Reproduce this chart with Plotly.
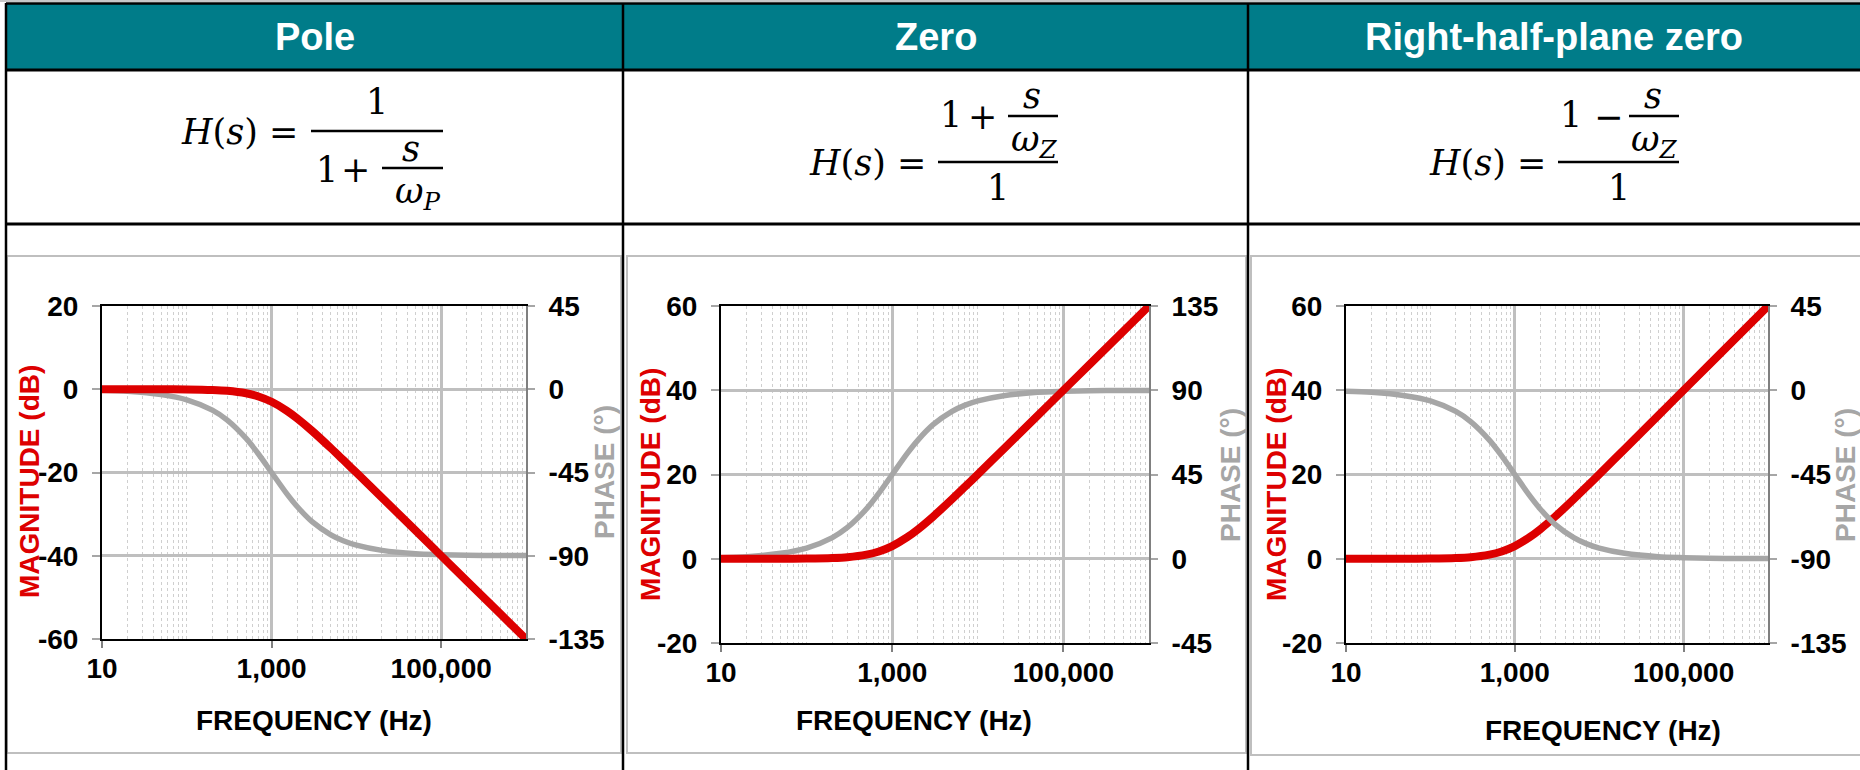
import plotly.graph_objects as go

W, H = 1860, 770

# ---------------- data ----------------
freq_hz = [10, 20, 50, 100, 200, 300, 500, 700, 1000, 1500, 2000, 3000, 5000, 7000,
           10000, 20000, 50000, 100000, 200000, 500000, 1000000]

pole_mag_db = [0.0, 0.0, 0.0, -0.04, -0.17, -0.37, -0.97, -1.73, -3.01, -5.12, -6.99, -10.0,
               -14.15, -16.99, -20.04, -26.03, -33.98, -40.0, -46.02, -53.98, -60.0]
pole_phase_deg = [-0.6, -1.1, -2.9, -5.7, -11.3, -16.7, -26.6, -35.0, -45.0, -56.3, -63.4, -71.6,
                  -78.7, -81.9, -84.3, -87.1, -88.9, -89.4, -89.7, -89.9, -89.9]

zero_mag_db = [0.0, 0.0, 0.0, 0.04, 0.17, 0.37, 0.97, 1.73, 3.01, 5.12, 6.99, 10.0,
               14.15, 16.99, 20.04, 26.03, 33.98, 40.0, 46.02, 53.98, 60.0]
zero_phase_deg = [0.6, 1.1, 2.9, 5.7, 11.3, 16.7, 26.6, 35.0, 45.0, 56.3, 63.4, 71.6,
                  78.7, 81.9, 84.3, 87.1, 88.9, 89.4, 89.7, 89.9, 89.9]

rhp_mag_db = [0.0, 0.0, 0.0, 0.04, 0.17, 0.37, 0.97, 1.73, 3.01, 5.12, 6.99, 10.0,
              14.15, 16.99, 20.04, 26.03, 33.98, 40.0, 46.02, 53.98, 60.0]
rhp_phase_deg = [-0.6, -1.1, -2.9, -5.7, -11.3, -16.7, -26.6, -35.0, -45.0, -56.3, -63.4, -71.6,
                 -78.7, -81.9, -84.3, -87.1, -88.9, -89.4, -89.7, -89.9, -89.9]

x_tick_vals = [10, 1000, 100000]
x_tick_text = ["10", "1,000", "100,000"]

pole_mag_ticks = [-60, -40, -20, 0, 20]
pole_phase_ticks = [-135, -90, -45, 0, 45]
zero_mag_ticks = [-20, 0, 20, 40, 60]
zero_phase_ticks = [-45, 0, 45, 90, 135]
rhp_mag_ticks = [-20, 0, 20, 40, 60]
rhp_phase_ticks = [-135, -90, -45, 0, 45]

headers = ["Pole", "Zero", "Right-half-plane zero"]

# ---------------- styling ----------------
RED = "#DD0000"
GRAY = "#A6A6A6"
TEAL = "#007C89"
SANS = "Liberation Sans, Arial, sans-serif"
SERIF = "DejaVu Serif, Liberation Serif, serif"
TICK_FS = 28
TITLE_FS = 28

minor_vals = [m * 10 ** e for e in range(1, 6) for m in range(2, 10)]
minor_vals += [10 ** e for e in range(2, 7) if 10 ** e not in x_tick_vals]


def px(x):
    return x / W


def py(y):
    return 1 - y / H


panels = [
    dict(mag=pole_mag_db, ph=pole_phase_deg, mt=pole_mag_ticks, pt=pole_phase_ticks,
         x0=102, x1=526, y0=306, y1=639, mag_on_top=True,
         mag_title=(29, 482), ph_title=(604, 472), fq_title=(314, 720)),
    dict(mag=zero_mag_db, ph=zero_phase_deg, mt=zero_mag_ticks, pt=zero_phase_ticks,
         x0=721, x1=1149, y0=306, y1=643, mag_on_top=True,
         mag_title=(650, 485), ph_title=(1230, 475), fq_title=(914, 720)),
    dict(mag=rhp_mag_db, ph=rhp_phase_deg, mt=rhp_mag_ticks, pt=rhp_phase_ticks,
         x0=1346, x1=1768, y0=306, y1=643, mag_on_top=False,
         mag_title=(1276, 485), ph_title=(1845, 475), fq_title=(1603, 730)),
]

fig = go.Figure()
layout = dict(
    width=W, height=H, margin=dict(l=0, r=0, t=0, b=0, pad=0, autoexpand=False),
    paper_bgcolor="white", plot_bgcolor="white", showlegend=False,
    font=dict(family=SANS, color="black"),
)

annotations = []
shapes = []

for i, p in enumerate(panels):
    xa = "xaxis" if i == 0 else f"xaxis{i + 1}"
    xid = "x" if i == 0 else f"x{i + 1}"
    ia, ib = 2 * i + 1, 2 * i + 2
    ida = "y" if ia == 1 else f"y{ia}"
    idb = f"y{ib}"
    ya, yb = ("yaxis" if ia == 1 else f"yaxis{ia}"), f"yaxis{ib}"
    # base axis (ya) / overlay axis (yb): overlay traces are drawn on top
    if p["mag_on_top"]:
        ph_axis, mag_axis = (ya, ida), (yb, idb)
    else:
        mag_axis, ph_axis = (ya, ida), (yb, idb)
    base_id = ida

    ydom = [py(p["y1"]), py(p["y0"])]
    layout[xa] = dict(
        domain=[px(p["x0"]), px(p["x1"])], anchor=mag_axis[1], type="log", range=[1, 6],
        tickmode="array", tickvals=x_tick_vals, ticktext=x_tick_text,
        ticks="outside", ticklen=7, tickwidth=2, tickcolor="#808080",
        showline=True, linecolor="black", linewidth=2, mirror=True,
        showgrid=True, gridcolor="#BFBFBF", gridwidth=2.5,
        minor=dict(tickmode="array", tickvals=minor_vals, showgrid=True,
                   gridcolor="#CFCFCF", gridwidth=1, griddash="dot", ticks=""),
        tickfont=dict(size=TICK_FS, family=SANS, color="black", weight="bold"),
        ticklabelstandoff=-4, zeroline=False, fixedrange=True, automargin=False,
    )
    mag_cfg = dict(
        domain=ydom, anchor=xid, side="left", range=[p["mt"][0], p["mt"][-1]],
        tickmode="array", tickvals=p["mt"], ticktext=[str(v) for v in p["mt"]],
        ticks="outside", ticklen=8, tickwidth=2, tickcolor=GRAY,
        showline=True, linecolor="black", linewidth=2,
        showgrid=True, gridcolor="#BFBFBF", gridwidth=2.5, zeroline=False,
        tickfont=dict(size=TICK_FS, family=SANS, color="black", weight="bold"),
        ticklabelstandoff=8, fixedrange=True, automargin=False,
    )
    ph_cfg = dict(
        domain=ydom, anchor=xid, side="right", range=[p["pt"][0], p["pt"][-1]],
        tickmode="array", tickvals=p["pt"], ticktext=[str(v) for v in p["pt"]],
        ticks="outside", ticklen=7, tickwidth=2, tickcolor=GRAY,
        showline=True, linecolor="#808080", linewidth=2,
        showgrid=False, zeroline=False,
        tickfont=dict(size=TICK_FS, family=SANS, color="black", weight="bold"),
        ticklabelstandoff=8, fixedrange=True, automargin=False,
    )
    if mag_axis[0] == yb:
        mag_cfg["overlaying"] = base_id
    else:
        ph_cfg["overlaying"] = base_id
    layout[mag_axis[0]] = mag_cfg
    layout[ph_axis[0]] = ph_cfg

    fig.add_trace(go.Scatter(x=freq_hz, y=p["ph"], xaxis=xid, yaxis=ph_axis[1], mode="lines",
                             line=dict(color=GRAY, width=5.5, shape="spline", smoothing=0.8),
                             hoverinfo="skip"))
    fig.add_trace(go.Scatter(x=freq_hz, y=p["mag"], xaxis=xid, yaxis=mag_axis[1], mode="lines",
                             line=dict(color=RED, width=8, shape="spline", smoothing=0.8),
                             hoverinfo="skip"))

    # axis titles
    mx, my = p["mag_title"]
    annotations.append(dict(x=px(mx), y=py(my), xref="paper", yref="paper", text="MAGNITUDE (dB)",
                            textangle=-90, showarrow=False, xanchor="center", yanchor="middle",
                            font=dict(size=TITLE_FS, family=SANS, color=RED, weight="bold")))
    qx, qy = p["ph_title"]
    annotations.append(dict(x=px(qx), y=py(qy), xref="paper", yref="paper", text="PHASE (°)",
                            textangle=-90, showarrow=False, xanchor="center", yanchor="middle",
                            font=dict(size=TITLE_FS, family=SANS, color=GRAY, weight="bold")))
    fx, fy = p["fq_title"]
    annotations.append(dict(x=px(fx), y=py(fy), xref="paper", yref="paper", text="FREQUENCY (Hz)",
                            showarrow=False, xanchor="center", yanchor="middle",
                            font=dict(size=TITLE_FS, family=SANS, color="black", weight="bold")))

# ---------------- table frame ----------------
def hline(y, x0, x1, color, w):
    shapes.append(dict(type="line", xref="paper", yref="paper", x0=px(x0), x1=px(x1),
                       y0=py(y), y1=py(y), line=dict(color=color, width=w)))


def vline(x, y0, y1, color, w):
    shapes.append(dict(type="line", xref="paper", yref="paper", x0=px(x), x1=px(x),
                       y0=py(y0), y1=py(y1), line=dict(color=color, width=w)))


def rect(x0, y0, x1, y1, line_color=None, fill=None, w=0):
    shapes.append(dict(type="rect", xref="paper", yref="paper", x0=px(x0), x1=px(x1),
                       y0=py(y1), y1=py(y0), fillcolor=fill or "rgba(0,0,0,0)",
                       line=dict(color=line_color or "rgba(0,0,0,0)", width=w)))


hline(1, 0, W, "#C8C8C8", 2)
rect(6, 3, W, 70, fill=TEAL)
# chart boxes
rect(7, 256, 621, 753, line_color="#BFBFBF", w=2)
rect(627, 256, 1246, 753, line_color="#BFBFBF", w=2)
rect(1251, 256, W + 5, 755, line_color="#BFBFBF", w=2)
hline(3.5, 6, W, "black", 2.5)
hline(70, 6, W, "black", 3)
hline(224, 6, W, "black", 3)
vline(6, 3, H, "black", 2.5)
vline(623, 3, H, "black", 2.5)
vline(1248, 3, H, "black", 2.5)

# headers
for txt, cx in zip(headers, [314.5, 935.5, 1554]):
    annotations.append(dict(x=px(cx), y=py(37), xref="paper", yref="paper", text=txt,
                            showarrow=False, xanchor="center", yanchor="middle",
                            font=dict(size=38, family=SANS, color="white", weight="bold")))

# ---------------- formulas ----------------
FS = 35


def ftxt(x, y, t, anchor="center", size=FS):
    annotations.append(dict(x=px(x), y=py(y), xref="paper", yref="paper", text=t,
                            showarrow=False, xanchor=anchor, yanchor="middle",
                            font=dict(size=size, family=SERIF, color="black")))


HS = "<i>H</i>(<i>s</i>) ="
# Pole
ftxt(300, 132, HS, anchor="right")
hline(131, 311, 443, "black", 2.5)
ftxt(377, 102, "1")
ftxt(327, 170, "1")
ftxt(355, 170, "+")
hline(168, 382, 443, "black", 2.5)
ftxt(411, 149, "<i>s</i>")
ftxt(418, 194, "<i>ω</i><sub><i>P</i></sub>")
# Zero
ftxt(928, 163, HS, anchor="right")
hline(162, 938, 1058, "black", 2.5)
ftxt(951, 115, "1")
ftxt(983, 117, "+")
hline(116, 1008, 1058, "black", 2.5)
ftxt(1032, 96, "<i>s</i>")
ftxt(1034, 142, "<i>ω</i><sub><i>Z</i></sub>")
ftxt(998, 188, "1")
# RHP zero
ftxt(1548, 163, HS, anchor="right")
hline(162, 1558, 1679, "black", 2.5)
ftxt(1571, 115, "1")
ftxt(1608, 117, "−")
hline(116, 1629, 1679, "black", 2.5)
ftxt(1653, 96, "<i>s</i>")
ftxt(1654, 142, "<i>ω</i><sub><i>Z</i></sub>")
ftxt(1619, 188, "1")

layout["annotations"] = annotations
layout["shapes"] = shapes
fig.update_layout(**layout)
fig.write_html("out.html")
